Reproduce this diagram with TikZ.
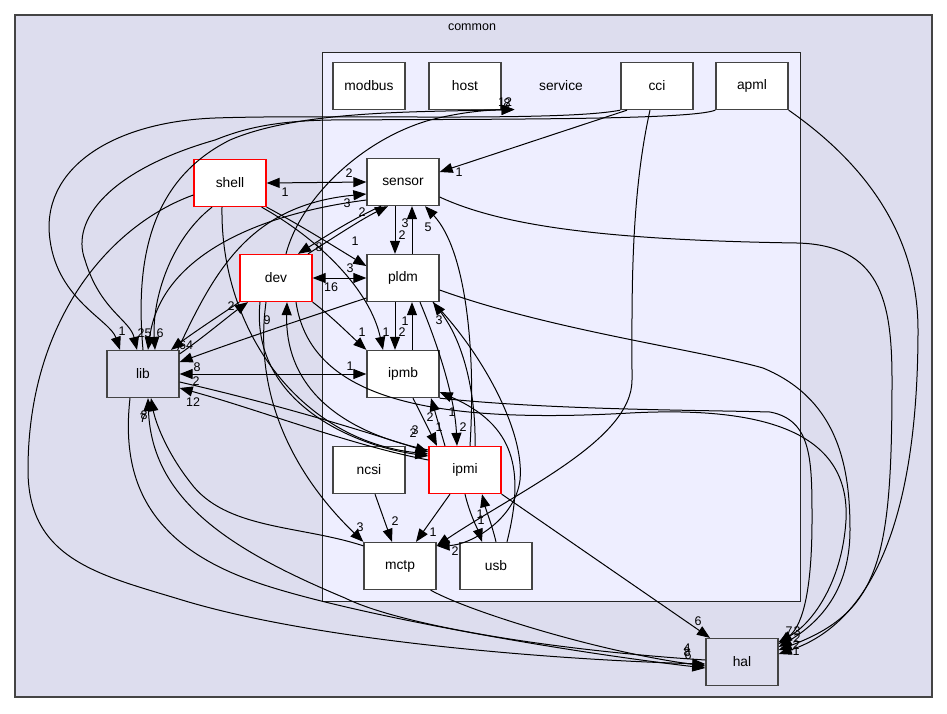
\documentclass[tikz,border=0pt]{standalone}
\usepackage{fontspec}
\setmainfont{Liberation Sans}
\usetikzlibrary{arrows.meta}
\definecolor{bgA}{HTML}{DDDDEE}
\definecolor{bgB}{HTML}{EEEEFF}
\definecolor{bord}{HTML}{444444}
\begin{document}
\begin{tikzpicture}[x=1pt,y=-1pt,line width=1pt,
  dirbox/.style={draw=bord,line width=1.3pt,fill=white,minimum width=72pt,minimum height=47pt,inner sep=0pt,font=\fontsize{13.8}{16}\selectfont},
  redbox/.style={dirbox,draw=red},
  extbox/.style={dirbox,fill=bgA},
  svc/.style={minimum width=92pt,minimum height=46pt,inner sep=0pt,font=\fontsize{13.8}{16}\selectfont},
  ttl/.style={inner sep=0pt,font=\fontsize{12.5}{14}\selectfont},
  lab/.style={inner sep=0pt,font=\fontsize{12.5}{14}\selectfont},
  dep/.style={draw=black,-{Triangle[length=13pt,width=10pt]}},
  dep2/.style={draw=black,{Triangle[length=13pt,width=10pt]}-{Triangle[length=13pt,width=10pt]}}]
\useasboundingbox (0,0) rectangle (947,713);
% clusters
\draw[bord,line width=1.3pt,fill=bgA] (15,15) rectangle (932,697);
\node[ttl] (tcommon) at (472,27) {common};
\draw[black!85,line width=1pt,fill=bgB] (322,52) rectangle (800,601);
% nodes
\node[dirbox] (modbus) at (369,86) {modbus};
\node[dirbox] (host) at (465,86) {host};
\node[svc] (service) at (561,86) {service};
\node[dirbox] (cci) at (657,86) {cci};
\node[dirbox] (apml) at (752,86) {apml};
\node[dirbox] (sensor) at (403,182) {sensor};
\node[dirbox] (pldm) at (403,278) {pldm};
\node[dirbox] (ipmb) at (403,374) {ipmb};
\node[redbox] (ipmi) at (465,470) {ipmi};
\node[dirbox] (ncsi) at (369,470) {ncsi};
\node[dirbox] (mctp) at (400,566) {mctp};
\node[dirbox] (usb) at (496,566) {usb};
\node[redbox] (shell) at (230,183) {shell};
\node[redbox] (dev) at (276,278) {dev};
\node[extbox] (lib) at (143,374) {lib};
\node[extbox] (hal) at (742,662) {hal};
% ---- edges
% shell
\draw[dep2] (shell.east) -- (sensor.west);
\node[lab] (l1) at (349,173) {2};
\node[lab] (l2) at (285,192) {1};
\draw[dep] (shell.south east) .. controls (300,225) and (340,250) .. ([yshift=12]pldm.west);
\node[lab] (l3) at (355,241) {1};
\draw[dep] ([xshift=-5]shell.south east) .. controls (320,240) and (370,290) .. ([xshift=-20]ipmb.north);
\node[lab] (l4) at (386,332) {1};
\draw[dep] ([xshift=-18]shell.south) .. controls (170,240) and (152,300) .. ([xshift=12]lib.north);
\node[lab] (l5) at (160,333) {6};
\draw[dep] ([xshift=-8]shell.south) .. controls (220,330) and (300,440) .. ([yshift=16]ipmi.west);
\node[lab] (l6) at (415,430) {3};
\draw[dep] ([yshift=-12]shell.west) .. controls (110,225) and (28,320) .. (28,470) .. controls (28,560) and (100,575) .. (182,600) .. controls (320,642) and (560,660) .. ([yshift=-2]hal.west);
\node[lab] (l7) at (687,652) {8};
% dev
\draw[dep] ([xshift=-22]sensor.south) .. controls (350,220) and (320,240) .. ([xshift=22]dev.north);
\node[lab] (l8) at (319,247) {8};
\draw[dep] ([xshift=32]dev.north) .. controls (330,240) and (360,220) .. ([xshift=-15]sensor.south);
\node[lab] (l9) at (362,212) {2};
\draw[dep2] (dev.east) -- (pldm.west);
\node[lab] (l10) at (350,268) {3};
\node[lab] (l11) at (331,287) {16};
\draw[dep] (dev.south east) .. controls (330,315) and (350,335) .. (ipmb.north west);
\node[lab] (l12) at (362,332) {1};
\draw[dep] (dev.south west) .. controls (220,315) and (190,335) .. ([xshift=28]lib.north);
\node[lab] (l13) at (186,345) {64};
\draw[dep] ([yshift=-4]lib.north east) .. controls (200,340) and (230,315) .. ([xshift=-28]dev.south);
\node[lab] (l14) at (231,306) {2};
\draw[dep] ([yshift=20]ipmi.west) .. controls (330,430) and (285,380) .. ([xshift=11]dev.south);
\node[lab] (l15) at (267,320) {9};
\draw[dep] ([xshift=-16]dev.south) .. controls (250,400) and (350,445) .. ([yshift=14]ipmi.west);
\draw[dep] ([xshift=-10]dev.south) .. controls (250,420) and (320,500) .. (mctp.north west);
\node[lab] (l16) at (360,527) {3};
\draw[dep] ([xshift=20]dev.south) .. controls (310,395) and (420,425) .. (630,413) .. controls (780,405) and (850,440) .. (846,520) .. controls (842,585) and (810,625) .. ([yshift=20]hal.east);
\node[lab] (l17) at (789,631) {7};
\draw[dep] ([xshift=10]dev.north) .. controls (300,200) and (360,140) .. (430,120) .. controls (470,110) and (495,110) .. (service.south west);
\node[lab] (l18) at (507,103) {8};
% lib
\draw[dep] (lib.north) .. controls (135,260) and (150,180) .. (230,140) .. controls (300,110) and (420,112) .. (service.south west);
\node[lab] (l19) at (505,102) {12};
\draw[dep] ([xshift=-2]lib.north east) .. controls (215,270) and (250,205) .. ([yshift=-12]sensor.west);
\node[lab] (l20) at (347,203) {3};
\draw[dep] ([yshift=-18]sensor.west) .. controls (250,215) and (160,260) .. ([xshift=5]lib.north);
\node[lab] (l21) at (148,333) {5};
\draw[dep] ([yshift=-20]pldm.west) .. controls (300,320) and (240,340) .. ([yshift=12]lib.east);
\node[lab] (l22) at (197,367) {8};
\draw[dep2] (lib.east) -- (ipmb.west);
\node[lab] (l23) at (350,366) {1};
\node[lab] (l24) at (196,381) {2};
\draw[dep] ([yshift=-8]lib.east) .. controls (280,405) and (360,430) .. ([yshift=18]ipmi.west);
\node[lab] (l25) at (413,433) {2};
\draw[dep] ([yshift=10]ipmi.west) .. controls (350,445) and (260,410) .. ([yshift=-14]lib.east);
\node[lab] (l26) at (193,402) {12};
\draw[dep] ([xshift=-13]lib.south) .. controls (122,470) and (140,540) .. (250,580) .. controls (330,610) and (550,650) .. ([yshift=-6]hal.west);
\node[lab] (l27) at (687,648) {4};
\draw[dep] ([yshift=2]hal.west) .. controls (550,650) and (400,625) .. (345,598) .. controls (230,550) and (152,500) .. ([xshift=5]lib.south);
\node[lab] (l28) at (143,418) {7};
\draw[dep] ([yshift=-4]mctp.north west) .. controls (300,525) and (225,530) .. (190,482) .. controls (165,450) and (155,420) .. ([xshift=8]lib.south);
\node[lab] (l29) at (144,415) {8};
% cci, apml
\draw[dep] (cci.south west) .. controls (560,122) and (330,114) .. (215,118) .. controls (110,122) and (40,170) .. (50,240) .. controls (58,300) and (110,320) .. ([xshift=-23]lib.north);
\node[lab] (l30) at (122,331) {1};
\draw[dep] (apml.south west) .. controls (690,120) and (500,119) .. (330,120) .. controls (270,121) and (240,130) .. (215,140) .. controls (110,170) and (70,220) .. (85,260) .. controls (100,310) and (130,320) .. ([xshift=-6]lib.north);
\node[lab] (l31) at (141,333) {2};
\draw[dep] ([xshift=-30]cci.south) -- ([yshift=10]sensor.east);
\node[lab] (l32) at (459,172) {1};
\draw[dep] ([xshift=-7]cci.south) .. controls (630,200) and (632,300) .. (632,380) .. controls (632,440) and (520,490) .. ([yshift=-4]mctp.north east);
\node[lab] (l33) at (455,551) {2};
\draw[dep] (apml.south east) .. controls (860,160) and (918,230) .. (918,330) .. controls (918,560) and (850,630) .. ([yshift=8]hal.east);
\node[lab] (l34) at (796,651) {1};
% sensor, pldm, ipmb
\draw[dep] ([xshift=-8]sensor.south) -- ([xshift=-8]pldm.north);
\node[lab] (l35) at (402,235) {2};
\draw[dep] ([xshift=9]pldm.north) -- ([xshift=9]sensor.south);
\node[lab] (l36) at (405,223) {3};
\draw[dep] ([xshift=-8]pldm.south) -- ([xshift=-8]ipmb.north);
\node[lab] (l37) at (402,332) {2};
\draw[dep] ([xshift=9]ipmb.north) -- ([xshift=9]pldm.south);
\node[lab] (l38) at (405,321) {1};
\draw[dep] ([yshift=-15]sensor.east) .. controls (500,225) and (600,240) .. (797,243) .. controls (880,245) and (892,300) .. (892,380) .. controls (892,560) and (880,612) .. ([yshift=12]hal.east);
\node[lab] (l39) at (796,645) {2};
\draw[dep] ([yshift=-12]pldm.east) .. controls (550,330) and (700,350) .. (763,368) .. controls (840,400) and (850,470) .. (850,530) .. controls (850,590) and (820,622) .. ([yshift=15]hal.east);
\node[lab] (l40) at (797,631) {3};
\draw[dep] (ipmb.south east) .. controls (550,410) and (700,410) .. (770,412) .. controls (812,420) and (812,460) .. (812,520) .. controls (812,600) and (800,628) .. ([yshift=18]hal.east);
\node[lab] (l41) at (797,638) {2};
\draw[dep] ([xshift=17]pldm.south) .. controls (440,350) and (455,400) .. ([xshift=-8]ipmi.north);
\node[lab] (l42) at (463,427) {2};
\draw[dep] ([xshift=30]pldm.south) .. controls (480,350) and (525,430) .. (520,480) .. controls (515,520) and (470,545) .. ([yshift=-4]mctp.north east);
\draw[dep] ([xshift=10]ipmb.south) -- ([xshift=-28]ipmi.north);
\node[lab] (l43) at (430,417) {2};
\draw[dep] ([xshift=-20]ipmi.north) -- ([xshift=28]ipmb.south);
\node[lab] (l44) at (439,427) {1};
% ipmi
\draw[dep] ([xshift=10]ipmi.north) .. controls (476,400) and (466,345) .. ([xshift=30]pldm.south);
\node[lab] (l45) at (439,320) {3};
\draw[dep] ([xshift=5]ipmi.north) .. controls (476,350) and (466,250) .. ([xshift=22]sensor.south);
\node[lab] (l46) at (428,227) {5};
\draw[dep] (ipmi.south east) -- ([xshift=-32]hal.north);
\node[lab] (l47) at (698,621) {6};
\draw[dep] ([xshift=-15]ipmi.south) -- ([xshift=16]mctp.north);
\node[lab] (l48) at (433,532) {1};
\draw[dep] (ipmi.south) .. controls (470,515) and (478,530) .. ([xshift=-14]usb.north);
\draw[dep] (usb.north) .. controls (492,525) and (486,510) .. ([xshift=17]ipmi.south);
\node[lab] (l49) at (480,514) {1};
\node[lab] (l50) at (481,520) {1};
\draw[dep] ([xshift=11]usb.north) .. controls (525,470) and (515,425) .. ([yshift=-18]ipmb.east);
\node[lab] (l51) at (452,412) {1};
% ncsi, mctp
\draw[dep] ([xshift=6]ncsi.south) -- ([xshift=-8]mctp.north);
\node[lab] (l52) at (395,521) {2};
\draw[dep] ([xshift=-6]mctp.south east) .. controls (470,612) and (600,652) .. ([yshift=-4]hal.west);
\node[lab] (l53) at (688,655) {6};
\end{tikzpicture}
\end{document}
